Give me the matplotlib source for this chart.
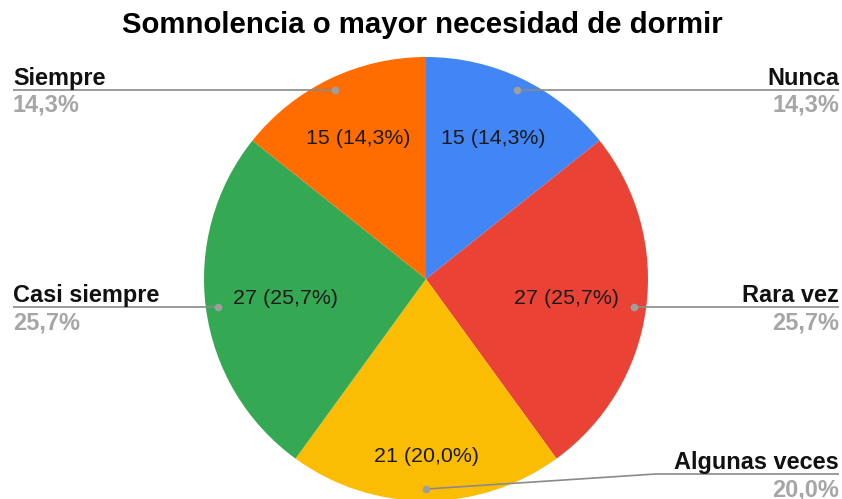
import numpy as np
import matplotlib
matplotlib.use("Agg")
import matplotlib.pyplot as plt

plt.rcParams['font.family'] = ['Liberation Sans', 'DejaVu Sans']

title = "Somnolencia o mayor necesidad de dormir"
categories = ["Nunca", "Rara vez", "Algunas veces", "Casi siempre", "Siempre"]
values = [15, 27, 21, 27, 15]
colors = ["#4285F4", "#EA4335", "#FBBC04", "#34A853", "#FF6D01"]
# radial placement of inner value labels (fraction of radius)
inner_r = [0.70, 0.64, 0.80, 0.64, 0.70]

W, H = 842, 499
fig = plt.figure(figsize=(W / 100, H / 100), dpi=100)
ax = fig.add_axes([0, 0, 1, 1])

cx, cy, R = 426, 220, 222
ax.pie(values, colors=colors, startangle=90, counterclock=False,
       center=(cx, cy), radius=R, frame=True,
       wedgeprops=dict(linewidth=0))
ax.set_xlim(0, W)
ax.set_ylim(0, H)
ax.set_aspect('auto')
ax.axis('off')

total = sum(values)
cum = np.cumsum([0] + values)
line_col = "#8a8a8a"
dot_col = "#9e9e9e"
pct_col = "#a6a6a6"
left_x, right_x = 13, 839
min_label_y = 25

for i, (cat, v) in enumerate(zip(categories, values)):
    mid = 90 - (cum[i] + v / 2) / total * 360
    a = np.deg2rad(mid)
    pct = v / total * 100
    pct_s = f"{pct:.1f}".replace(".", ",") + "%"
    # inner label
    tx = cx + inner_r[i] * R * np.cos(a)
    ty = cy + inner_r[i] * R * np.sin(a)
    ax.text(tx, ty, f"{v} ({pct_s})", ha='center', va='center',
            fontsize=15.4, color='#1a1a1a')
    # leader dot
    dx = cx + 0.946 * R * np.cos(a)
    dy = cy + 0.946 * R * np.sin(a)
    ly = max(dy, min_label_y)
    right = np.cos(a) >= -1e-9
    ex = right_x if right else left_x
    if ly != dy:
        bx = dx + (ly - dy) * 15.3 if right else dx - (ly - dy) * 15.3
        ax.plot([dx, bx, ex], [dy, ly, ly], color=line_col, lw=1.2,
                solid_capstyle='butt', zorder=3)
    else:
        ax.plot([dx, ex], [dy, ly], color=line_col, lw=1.2,
                solid_capstyle='butt', zorder=3)
    ax.plot([dx], [dy], 'o', color=dot_col, ms=5.5, mec='none', zorder=4)
    ha = 'right' if right else 'left'
    ax.text(ex, ly + 5, cat, ha=ha, va='baseline', fontsize=16.9,
            fontweight='bold', color='#111111')
    ax.text(ex, ly - 22, pct_s, ha=ha, va='baseline', fontsize=16.9,
            fontweight='bold', color=pct_col)

ax.text(122, H - 33, title, ha='left', va='baseline', fontsize=21.2,
        fontweight='bold', color='#000000')

fig.savefig("out.png", dpi=100)
